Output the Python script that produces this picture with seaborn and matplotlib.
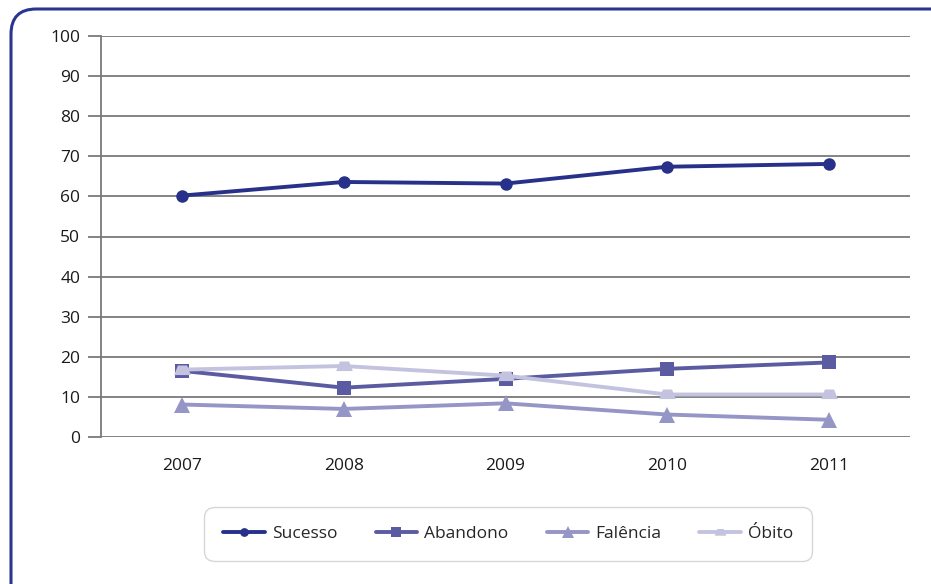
import pandas as pd
import matplotlib.pyplot as plt
import seaborn as sns
from matplotlib.patches import FancyBboxPatch

# dados
anos = ['2007', '2008', '2009', '2010', '2011']
sucesso = [60.2, 63.6, 63.2, 67.4, 68.1]
abandono = [16.5, 12.3, 14.5, 17.0, 18.6]
falencia = [8.1, 7.0, 8.4, 5.6, 4.3]
obito = [16.8, 17.7, 15.3, 10.6, 10.6]

series = ['Sucesso', 'Abandono', 'Falência', 'Óbito']
cores = ['#27318a', '#5b5ba1', '#9595c6', '#c3c3e0']
trapezio = [(-1, -0.55), (1, -0.55), (0.55, 0.6), (-0.55, 0.6), (-1, -0.55)]
marcadores = ['o', 's', '^', trapezio]
tamanhos = [9, 10, 12, 12]

df = pd.DataFrame({'Ano': anos * 4,
                   'Valor': sucesso + abandono + falencia + obito,
                   'Serie': [s for s in series for _ in anos]})

sns.set_style('white')
plt.rcParams['font.family'] = ['Open Sans', 'DejaVu Sans']

fig = plt.figure(figsize=(9.31, 5.84), dpi=100)
ax = fig.add_axes([101 / 931, 1 - 437 / 584, 809 / 931, 401 / 584])

# moldura arredondada
moldura = FancyBboxPatch((11 / 931, -0.2), 1.2, 1.2 - 9 / 584,
                         boxstyle='round,pad=0,rounding_size=0.027',
                         transform=fig.transFigure, fill=False,
                         edgecolor='#2a3592', linewidth=2.2, mutation_aspect=931 / 584)
fig.patches.append(moldura)

for s, c, m, t in zip(series, cores, marcadores, tamanhos):
    sns.lineplot(data=df[df['Serie'] == s], x='Ano', y='Valor', ax=ax, color=c,
                 marker=m, markersize=t, markeredgewidth=0, linewidth=2.8,
                 label=s, sort=False)

ax.set_xlim(-0.5, 4.5)
ax.set_ylim(0, 100)
ax.set_yticks(range(0, 101, 10))
ax.set_xlabel('')
ax.set_ylabel('')
ax.yaxis.grid(True, color='#7a7a7a', linewidth=1.3)
ax.xaxis.grid(False)
for lado in ['top', 'right', 'bottom']:
    ax.spines[lado].set_visible(False)
ax.spines['left'].set_color('#7a7a7a')
ax.spines['left'].set_linewidth(1.3)
ax.tick_params(axis='y', length=9.5, width=1.3, color='#7a7a7a', labelsize=12.5,
               labelcolor='#1a1a1a', left=True, pad=5.5)
ax.tick_params(axis='x', length=0, labelsize=12.5, labelcolor='#1a1a1a', pad=15)
ax.set_axisbelow(True)

leg = ax.legend(loc='center', bbox_to_anchor=(0.5035, (1 - 534 / 584 - (1 - 437 / 584)) / (401 / 584)),
                ncol=4, frameon=True, fontsize=12.5, handlelength=2.4, columnspacing=2.2,
                borderpad=1.1, handletextpad=0.4, markerscale=0.7)
leg.get_frame().set_edgecolor('#cccccc')
leg.get_frame().set_linewidth(1.0)
leg.get_frame().set_boxstyle('round,pad=0,rounding_size=0.6')

fig.savefig('out.png', dpi=100)
